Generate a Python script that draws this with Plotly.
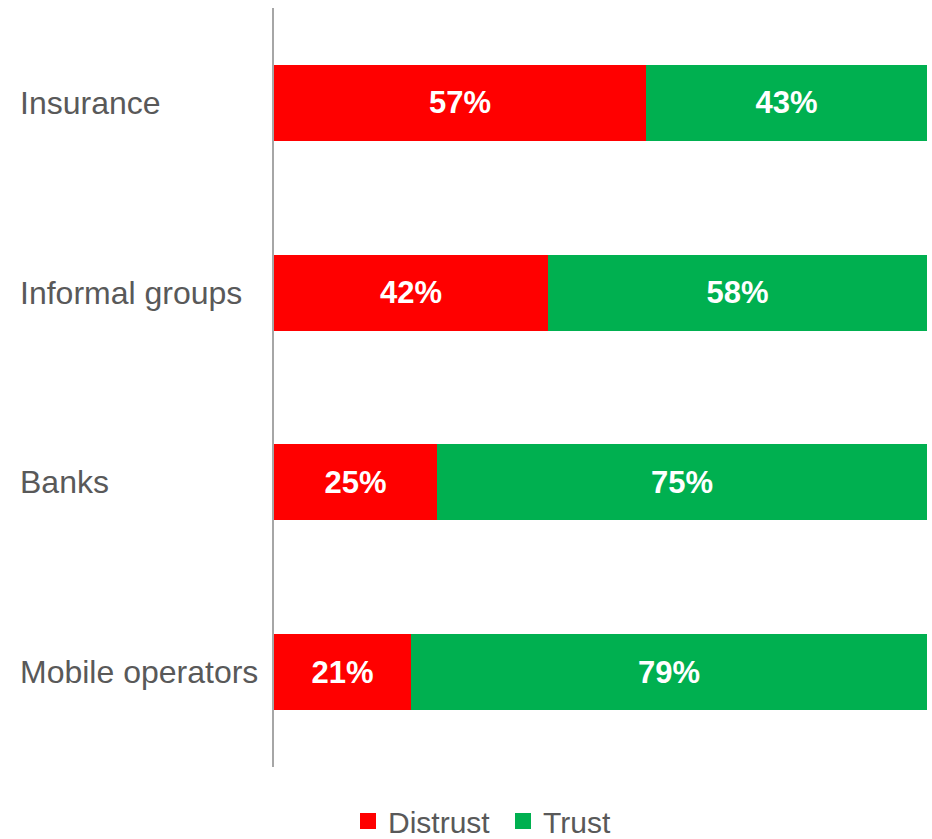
import plotly.graph_objects as go

categories = ["Insurance", "Informal groups", "Banks", "Mobile operators"]
distrust = [57, 42, 25, 21]
trust = [43, 58, 75, 79]

FONT = "Liberation Sans, Arial, sans-serif"
RED = "#FF0000"
GREEN = "#00B050"
LABEL_GRAY = "#595959"

W, H = 932, 839
ML, MR, MT, MB = 274, 5, 8, 72
plot_w = W - ML - MR

fig = go.Figure()
for name, vals, color in [("Distrust", distrust, RED), ("Trust", trust, GREEN)]:
    fig.add_trace(go.Bar(
        y=categories, x=vals, orientation="h", name=name,
        marker=dict(color=color, line=dict(width=0)),
        text=[f"{v}%" for v in vals], textposition="inside",
        insidetextanchor="middle",
        textfont=dict(family=FONT, size=31, color="white", weight="bold"),
        width=0.4, showlegend=False,
    ))
    # legend entry with a larger square swatch
    fig.add_trace(go.Scatter(
        x=[None], y=[None], mode="markers", name=name + " ",
        marker=dict(symbol="square", size=16, color=color),
        hoverinfo="skip",
    ))

# left-aligned category labels
for c in categories:
    fig.add_annotation(
        x=-(ML - 18) / plot_w, xref="paper", xanchor="left",
        y=c, yref="y", yanchor="middle",
        text=c, showarrow=False,
        font=dict(family=FONT, size=32, color=LABEL_GRAY),
    )

fig.update_layout(
    width=W, height=H,
    margin=dict(l=ML, r=MR, t=MT, b=MB, autoexpand=False),
    barmode="stack",
    plot_bgcolor="white", paper_bgcolor="white",
    legend=dict(
        orientation="h", x=(486 - ML) / plot_w, xanchor="center",
        y=-54 / (H - MT - MB), yanchor="middle",
        font=dict(family=FONT, size=30, color=LABEL_GRAY),
        traceorder="normal", itemwidth=30,
    ),
    showlegend=True,
)
fig.update_xaxes(range=[0, 100], showgrid=False, zeroline=False,
                 showticklabels=False, showline=False, fixedrange=True)
fig.update_yaxes(categoryorder="array", categoryarray=categories,
                 autorange="reversed", showticklabels=False,
                 showgrid=False, zeroline=False,
                 showline=True, linecolor="#A6A6A6", linewidth=2,
                 ticks="")

fig.write_html("out.html")
